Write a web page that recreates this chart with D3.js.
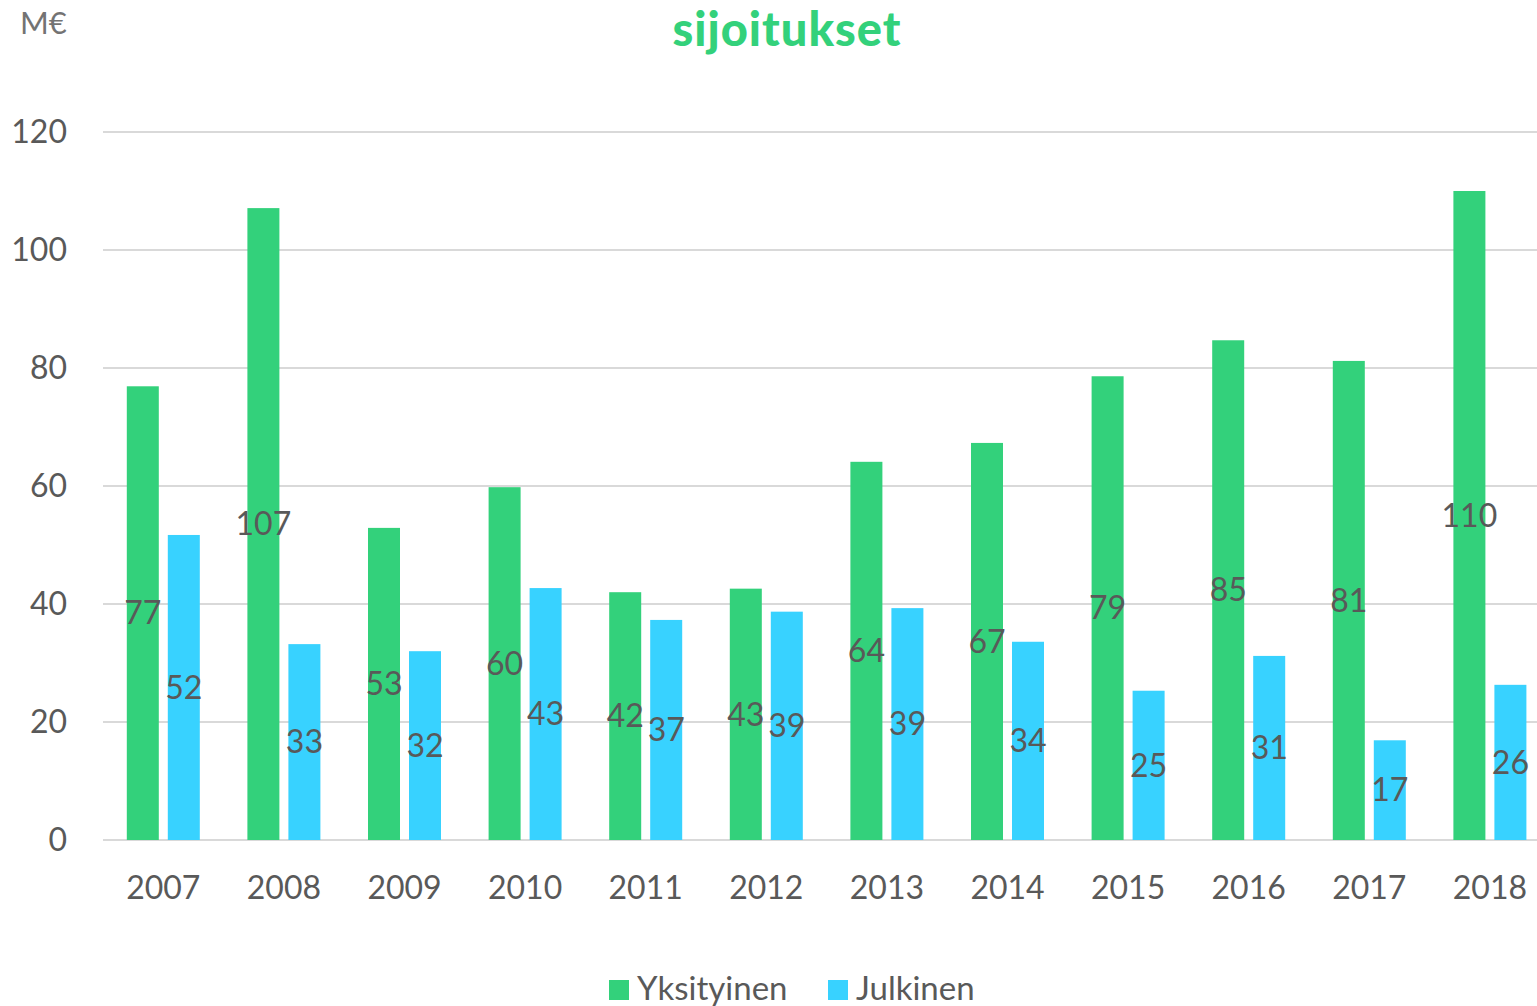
<!DOCTYPE html>
<html>
<head>
<meta charset="utf-8">
<script src="https://cdn.jsdelivr.net/npm/d3@7"></script>
<style>
  body { margin: 0; background: #fff; }
  svg { display: block; font-family: Lato, "Open Sans", sans-serif; }
</style>
</head>
<body>
<svg id="chart" width="1537" height="1006"></svg>
<script>
const years = ["2007", "2008", "2009", "2010", "2011", "2012", "2013", "2014", "2015", "2016", "2017", "2018"];
const yksityinen = [76.9, 107.1, 52.9, 59.8, 42.0, 42.6, 64.1, 67.3, 78.6, 84.7, 81.2, 110.0];
const julkinen = [51.7, 33.2, 32.0, 42.7, 37.3, 38.7, 39.3, 33.6, 25.3, 31.2, 16.9, 26.3];
const seriesNames = ["Yksityinen", "Julkinen"];
const yTicks = [0, 20, 40, 60, 80, 100, 120];

const colors = ["#33d17b", "#38d2ff"];
const textColor = "#595959";

const svg = d3.select("#chart");

const margin = { left: 103, top: 132, bottom: 840 };
const step = 120.6;
const width = step * years.length;

const x = d3.scaleBand()
  .domain(years)
  .range([margin.left, margin.left + width]);

const y = d3.scaleLinear()
  .domain([0, 120])
  .range([margin.bottom, margin.top]);

const barW = 32;
const gap = 9;

// gridlines
svg.append("g")
  .selectAll("line")
  .data(yTicks)
  .join("line")
  .attr("x1", margin.left)
  .attr("x2", 1537)
  .attr("y1", (d) => y(d))
  .attr("y2", (d) => y(d))
  .attr("stroke", "#d9d9d9")
  .attr("stroke-width", 2);

// y tick labels
svg.append("g")
  .selectAll("text")
  .data(yTicks)
  .join("text")
  .attr("x", 67)
  .attr("y", (d) => y(d))
  .attr("dy", "0.35em")
  .attr("text-anchor", "end")
  .attr("fill", textColor)
  .style("font-size", "32px")
  .text((d) => d);

// x labels
svg.append("g")
  .selectAll("text")
  .data(years)
  .join("text")
  .attr("x", (d) => x(d) + x.bandwidth() / 2)
  .attr("y", 888)
  .attr("dy", "0.35em")
  .attr("text-anchor", "middle")
  .attr("fill", textColor)
  .style("font-size", "32px")
  .text((d) => d);

const series = [yksityinen, julkinen];
const fmt = d3.format(".0f");

series.forEach((vals, si) => {
  const offset = si === 0 ? -(barW + gap / 2) : gap / 2;
  const g = svg.append("g");
  const data = years.map((yr, i) => ({ yr, v: vals[i] }));

  g.selectAll("rect")
    .data(data)
    .join("rect")
    .attr("x", (d) => x(d.yr) + x.bandwidth() / 2 + offset)
    .attr("y", (d) => y(d.v))
    .attr("width", barW)
    .attr("height", (d) => y(0) - y(d.v))
    .attr("fill", colors[si]);

  g.selectAll("text")
    .data(data)
    .join("text")
    .attr("x", (d) => x(d.yr) + x.bandwidth() / 2 + offset + barW / 2)
    .attr("y", (d) => (y(d.v) + y(0)) / 2)
    .attr("dy", "0.35em")
    .attr("text-anchor", "middle")
    .attr("fill", textColor)
    .style("font-size", "32px")
    .text((d) => fmt(d.v));
});

// unit label
svg.append("text")
  .attr("x", 20)
  .attr("y", 34)
  .attr("fill", "#737373")
  .style("font-size", "31px")
  .text("M€");

// title
svg.append("text")
  .attr("x", 787)
  .attr("y", 46)
  .attr("text-anchor", "middle")
  .attr("fill", colors[0])
  .style("font-size", "47px")
  .style("font-weight", 900)
  .style("letter-spacing", "1px")
  .text("sijoitukset");

// legend
const legendX = [609, 828];
const lg = svg.append("g");
seriesNames.forEach((name, i) => {
  lg.append("rect")
    .attr("x", legendX[i])
    .attr("y", 980)
    .attr("width", 20)
    .attr("height", 20)
    .attr("fill", colors[i]);
  lg.append("text")
    .attr("x", legendX[i] + 28)
    .attr("y", 988)
    .attr("dy", "0.35em")
    .attr("fill", textColor)
    .style("font-size", "33px")
    .text(name);
});
</script>
</body>
</html>
